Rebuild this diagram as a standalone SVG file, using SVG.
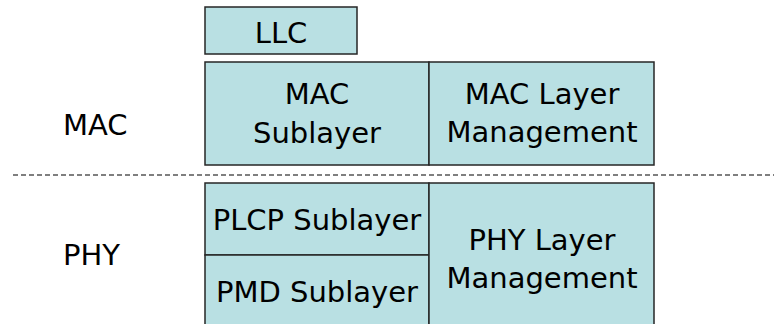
<svg xmlns="http://www.w3.org/2000/svg" width="774" height="324" viewBox="0 0 774 324">
<style>
.box{fill:#b9e0e3;stroke:#262626;stroke-width:1.5}
.t{font-family:"DejaVu Sans","Liberation Sans",sans-serif;font-size:29px;fill:#000;text-anchor:middle}
.l{font-family:"DejaVu Sans","Liberation Sans",sans-serif;font-size:29px;fill:#000}
.sep{stroke:#555;stroke-width:1.5;stroke-dasharray:5 3;fill:none}
</style>
<rect width="774" height="324" fill="#fff"/>
<g id="llc"><rect class="box" x="205" y="7" width="152" height="47"/><text class="t" x="281" y="43">LLC</text></g>
<g id="mac-sublayer"><rect class="box" x="205" y="62" width="224" height="103"/><text class="t" x="317" y="104">MAC</text><text class="t" x="317" y="143">Sublayer</text></g>
<g id="mac-mgmt"><rect class="box" x="429" y="62" width="225" height="103"/><text class="t" x="542" y="104">MAC Layer</text><text class="t" x="542" y="142">Management</text></g>
<g id="plcp"><rect class="box" x="205" y="183" width="224" height="72"/><text class="t" x="317" y="230">PLCP Sublayer</text></g>
<g id="pmd"><rect class="box" x="205" y="255" width="224" height="75"/><text class="t" x="317" y="302">PMD Sublayer</text></g>
<g id="phy-mgmt"><rect class="box" x="429" y="183" width="225" height="147"/><text class="t" x="542" y="250">PHY Layer</text><text class="t" x="542" y="288">Management</text></g>
<g id="label-mac"><text class="l" x="63" y="135">MAC</text></g>
<g id="label-phy"><text class="l" x="63" y="265">PHY</text></g>
<g id="connectors"><line class="sep" x1="13" y1="175" x2="774" y2="175"/></g>
</svg>
